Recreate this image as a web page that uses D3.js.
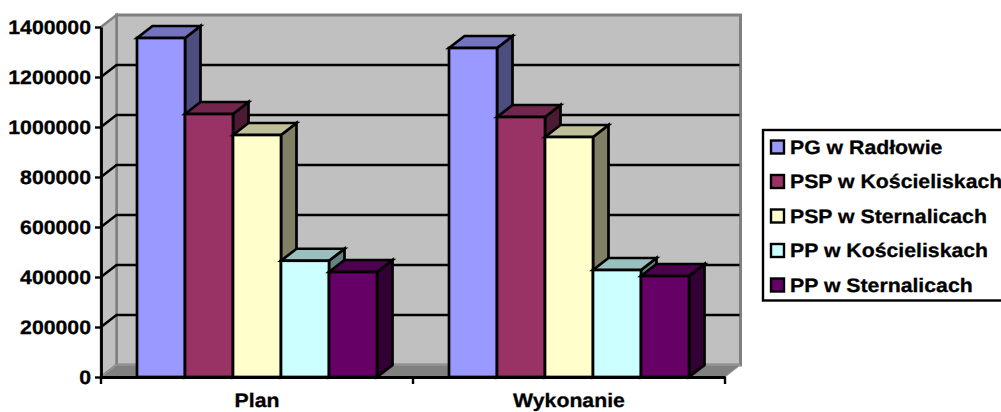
<!DOCTYPE html>
<html><head><meta charset="utf-8">
<script src="https://cdn.jsdelivr.net/npm/d3@7"></script>
<style>html,body{margin:0;padding:0;background:#fff}svg{display:block}
text{font-family:"Liberation Sans",Arial,sans-serif;font-weight:bold;fill:#000;stroke:#000;stroke-width:.3px;text-rendering:geometricPrecision}</style></head>
<body><svg id="c" width="1001" height="412"></svg>
<script>
const categories=["Plan","Wykonanie"];
const seriesNames=["PG w Radłowie","PSP w Kościeliskach","PSP w Sternalicach","PP w Kościeliskach","PP w Sternalicach"];
const planValues=[1356000,1052000,968000,465000,420000];
const wykonanieValues=[1316000,1040000,960000,428000,404000];
const seriesColors=["#9999ff","#993366","#ffffcc","#ccffff","#660066"];
const yTicks=[0,200000,400000,600000,800000,1000000,1200000,1400000];

const svg=d3.select("#c");
const dx=15.5,dy=12,leftX=101,rightX=725,bottomY=377,topY=27,sx=1.09,fs=19.5;
const x=d3.scaleBand().domain(categories).range([leftX,rightX]);
const inner=d3.scaleBand().domain(seriesNames).range([36,x.bandwidth()-36]);
const y=d3.scaleLinear().domain([0,1400000]).range([bottomY,topY]);
const poly=p=>p.map(d=>d.join(",")).join(" ");

// walls
svg.append("polygon").attr("points",poly([[leftX+dx,topY-dy],[rightX+dx,topY-dy],[rightX+dx,bottomY-dy],[leftX+dx,bottomY-dy]]))
  .attr("fill","#c0c0c0").attr("stroke","#808080").attr("stroke-width",3);
svg.append("polygon").attr("points",poly([[leftX,topY],[leftX+dx,topY-dy],[leftX+dx,bottomY-dy],[leftX,bottomY]]))
  .attr("fill","#c0c0c0").attr("stroke","#808080").attr("stroke-width",2.5);
svg.append("polygon").attr("points",poly([[leftX,bottomY],[leftX+dx,bottomY-dy],[rightX+dx,bottomY-dy],[rightX,bottomY]]))
  .attr("fill","#808080").attr("stroke","#a0a0a0").attr("stroke-width",1);

// gridlines
yTicks.slice(1,-1).forEach(t=>{
  const py=y(t);
  svg.append("path").attr("d",`M${leftX},${py}L${leftX+dx},${py-dy}L${rightX+dx-1},${py-dy}`)
    .attr("fill","none").attr("stroke","#000").attr("stroke-width",2.4);
});

// bars
const rows=[planValues,wykonanieValues];
categories.forEach((c,ci)=>{
  seriesNames.forEach((s,si)=>{
    const v=rows[ci][si],x0=x(c)+inner(s),w=inner.bandwidth(),yt=y(v),col=d3.rgb(seriesColors[si]);
    const g=svg.append("g").attr("stroke","#000").attr("stroke-width",2.7).attr("stroke-linejoin","miter");
    const shade=k=>d3.rgb(col.r*k,col.g*k,col.b*k).formatHex();
    g.append("polygon").attr("points",poly([[x0+w,yt],[x0+w+dx,yt-dy],[x0+w+dx,bottomY-dy],[x0+w,bottomY]])).attr("fill",shade(.5));
    g.append("polygon").attr("points",poly([[x0,yt],[x0+dx,yt-dy],[x0+w+dx,yt-dy],[x0+w,yt]])).attr("fill",shade(.75));
    g.append("rect").attr("x",x0).attr("y",yt).attr("width",w).attr("height",bottomY-yt).attr("fill",col.formatHex());
  });
});

// axes
const ay=svg.append("g").attr("transform",`translate(${leftX},0)`).call(d3.axisLeft(y).tickValues(yTicks).tickFormat(d3.format("d")).tickSize(6).tickSizeOuter(0));
const ax=svg.append("g").attr("transform",`translate(0,${bottomY})`).call(d3.axisBottom(x).tickSize(0).tickSizeOuter(0));
[ay,ax].forEach(a=>{a.selectAll(".domain").attr("stroke","#000").attr("stroke-width",2.8);a.selectAll("line").attr("stroke","#000").attr("stroke-width",2.4);});
ay.selectAll("text").attr("x",0).attr("y",0).attr("dy",null).style("font-size",fs+"px")
  .attr("transform",`translate(-10,6.5) scale(${sx},1)`);
ax.selectAll("text").attr("x",0).attr("y",0).attr("dy",null).style("font-size",fs+"px")
  .attr("transform",`translate(0,30) scale(${sx},1)`);
// category boundary ticks
[leftX,leftX+x.bandwidth(),rightX].forEach(px=>{
  ax.append("line").attr("x1",px).attr("x2",px).attr("y1",0).attr("y2",7).attr("stroke","#000").attr("stroke-width",2.4);
});

// legend
const lx=763,ly=130,lh=170.5,ls=34.5;
svg.append("rect").attr("x",lx).attr("y",ly).attr("width",260).attr("height",lh).attr("fill","#fff").attr("stroke","#000").attr("stroke-width",2.4);
const lg=svg.selectAll("g.leg").data(seriesNames).join("g").attr("class","leg").attr("transform",(d,i)=>`translate(${lx+8},${ly+17+i*ls})`);
lg.append("rect").attr("x",0).attr("y",-6.5).attr("width",13).attr("height",13).attr("fill",(d,i)=>seriesColors[i]).attr("stroke","#000").attr("stroke-width",2.4);
lg.append("text").attr("transform",`translate(19,6.5) scale(${sx},1)`).style("font-size",fs+"px").text(d=>d);
</script></body></html>
